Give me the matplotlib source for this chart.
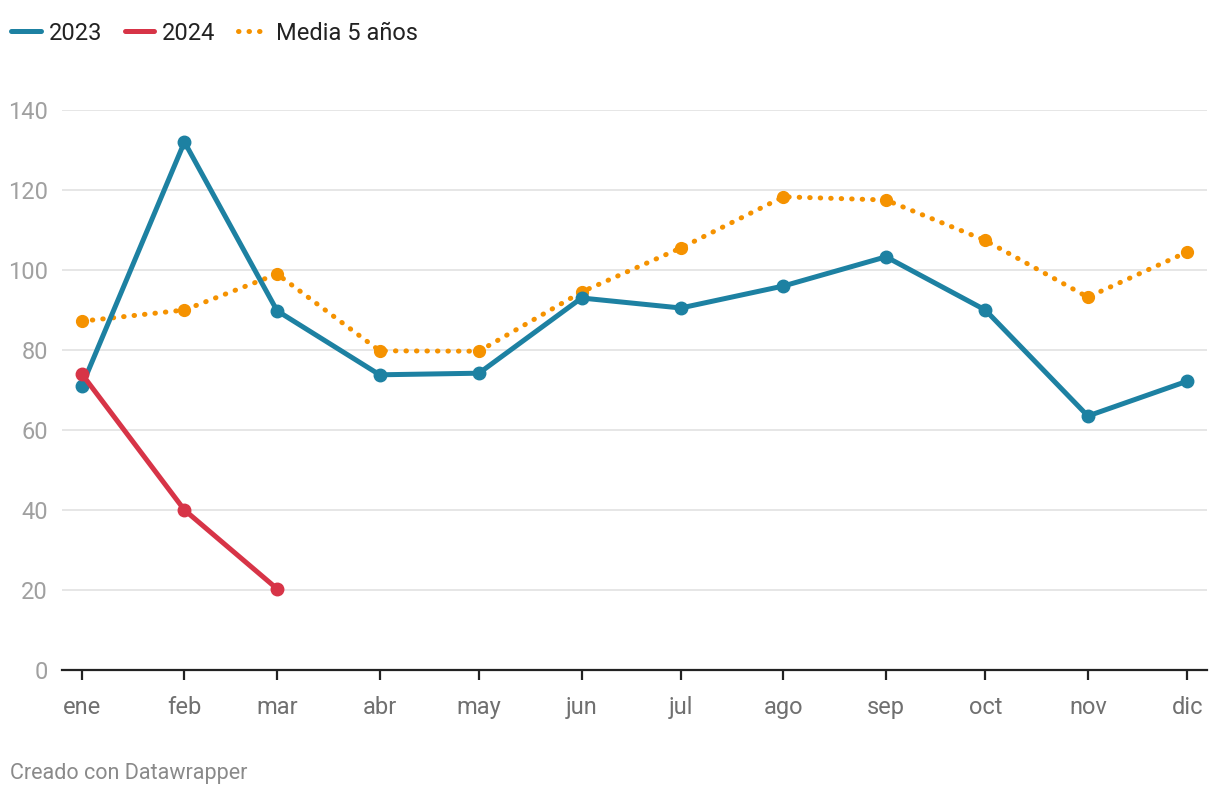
import datetime as dt
import matplotlib
matplotlib.use("Agg")
import matplotlib.pyplot as plt

plt.rcParams['font.family'] = ['Roboto', 'DejaVu Sans']

meses = ['ene', 'feb', 'mar', 'abr', 'may', 'jun',
         'jul', 'ago', 'sep', 'oct', 'nov', 'dic']
fechas = [dt.date(2023, m, 1) for m in range(1, 13)]

serie_2023 = [71, 132, 89.8, 73.8, 74.2, 93, 90.5, 96, 103.3, 90, 63.5, 72.2]
serie_2024 = [74, 40, 20.3]
media_5 = [87.2, 90, 99, 79.8, 79.7, 94.5, 105.5, 118.3, 117.5, 107.4, 93.2, 104.5]

azul = '#1d81a2'
rojo = '#d73447'
naranja = '#f59200'

fig = plt.figure(figsize=(12.2, 7.96), dpi=100)
ax = fig.add_axes([62 / 1220, 1 - 670 / 796, 1145 / 1220, 560 / 796])

ax.plot(fechas, media_5, color=naranja, lw=3.6, ls=(0, (0.1, 2.0)),
        dash_capstyle='round', marker='o', ms=8.5, zorder=3,
        clip_on=False, label='Media 5 años')
ax.plot(fechas, serie_2023, color=azul, lw=3.6, marker='o', ms=9,
        solid_capstyle='round', zorder=4, clip_on=False, label='2023')
ax.plot(fechas[:3], serie_2024, color=rojo, lw=3.6, marker='o', ms=9,
        solid_capstyle='round', zorder=5, clip_on=False, label='2024')

ax.set_ylim(0, 140)
ax.set_xlim(fechas[0] - dt.timedelta(days=6), fechas[-1] + dt.timedelta(days=6))
ax.set_yticks(range(0, 141, 20))
ax.set_xticks(fechas)
ax.set_xticklabels(meses)

ax.grid(axis='y', color='#e1e1e1', lw=1.2)
ax.set_axisbelow(True)
for s in ['top', 'right', 'left']:
    ax.spines[s].set_visible(False)
ax.spines['bottom'].set_color('#222222')
ax.spines['bottom'].set_linewidth(1.6)
ax.spines['bottom'].set_zorder(6)

ax.tick_params(axis='x', length=7, width=1.6, color='#222222',
               labelsize=17, labelcolor='#707070', pad=12)
ax.tick_params(axis='y', length=0, labelsize=17, labelcolor='#a0a0a0', pad=10)

handles, labels = ax.get_legend_handles_labels()
orden = [1, 2, 0]
leg = fig.legend([handles[i] for i in orden], [labels[i] for i in orden],
                 loc='center left', bbox_to_anchor=(11 / 1220, 1 - 33 / 796),
                 ncol=3, frameon=False, fontsize=17, handlelength=1.25,
                 handletextpad=0.35, columnspacing=0.95, borderpad=0,
                 borderaxespad=0)
for h in leg.legend_handles:
    h.set_marker('')
for t in leg.get_texts():
    t.set_color('#222222')

fig.text(10 / 1220, 1 - 774 / 796, 'Creado con Datawrapper', fontsize=15.5,
         color='#8a8a8a', va='center', ha='left')

fig.savefig('out.png', dpi=100)
